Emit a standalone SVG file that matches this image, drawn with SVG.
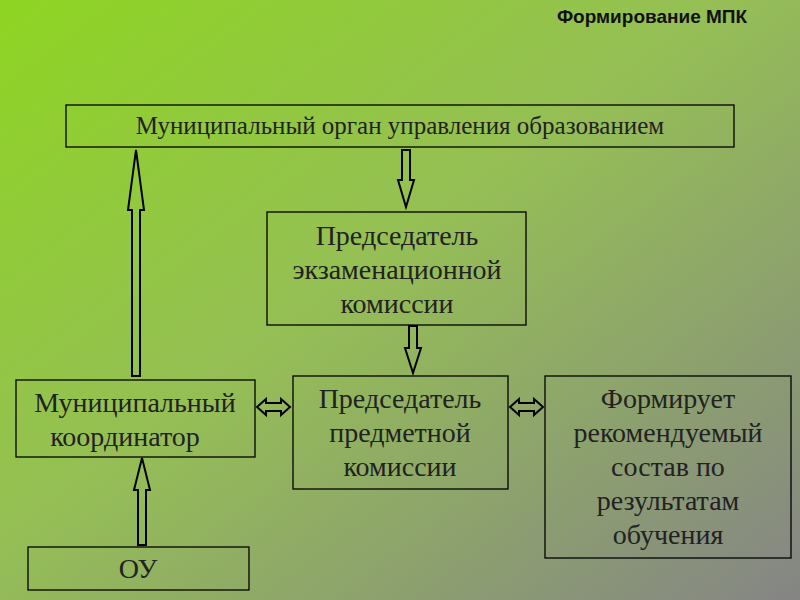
<svg xmlns="http://www.w3.org/2000/svg" width="800" height="600" viewBox="0 0 800 600">
<defs>
<linearGradient id="bg" x1="0" y1="0" x2="1" y2="1">
<stop offset="0" stop-color="#8ed522"/>
<stop offset="0.45" stop-color="#95bf55"/>
<stop offset="1" stop-color="#858585"/>
</linearGradient>
<style>
.box{fill:none;stroke:#000;stroke-width:1.3}
.t{font-family:"Liberation Serif","DejaVu Serif",serif;font-size:28px;fill:#222;text-anchor:middle}
.arr{fill:none;stroke:#000;stroke-width:2;stroke-linejoin:miter}
</style>
</defs>
<rect width="800" height="600" fill="url(#bg)"/>
<text x="652" y="23" font-family="Liberation Sans,Arial,sans-serif" font-size="19" font-weight="bold" text-anchor="middle" fill="#111">Формирование МПК</text>
<g id="organ"><rect class="box" x="66" y="105" width="668" height="42"/><text class="t" x="400" y="134" style="font-size:25px">Муниципальный орган управления образованием</text></g>
<g id="pek"><rect class="box" x="267" y="212" width="259" height="113"/><text class="t" x="397" y="245">Председатель</text><text class="t" x="397" y="279">экзаменационной</text><text class="t" x="397" y="313">комиссии</text></g>
<g id="coord"><rect class="box" x="16" y="380" width="239" height="77"/><text class="t" x="135" y="412">Муниципальный</text><text class="t" x="125" y="446">координатор</text></g>
<g id="ppk"><rect class="box" x="293" y="376" width="215" height="113"/><text class="t" x="400" y="408">Председатель</text><text class="t" x="400" y="442">предметной</text><text class="t" x="400" y="476">комиссии</text></g>
<g id="form"><rect class="box" x="545" y="376" width="246" height="182"/><text class="t" x="668" y="408">Формирует</text><text class="t" x="668" y="442">рекомендуемый</text><text class="t" x="668" y="476">состав по</text><text class="t" x="668" y="510">результатам</text><text class="t" x="668" y="544">обучения</text></g>
<g id="ou"><rect class="box" x="28" y="547" width="221" height="43"/><text class="t" x="138" y="578">ОУ</text></g>
<g id="connectors">
<polygon class="arr" points="136,150 144,210 140,210 140,376 132,376 132,210 128,210"/>
<polygon class="arr" points="402,150 410,150 410,180 414,180 406,207 398,180 402,180"/>
<polygon class="arr" points="409,326 417,326 417,348 421,348 413,373 405,348 409,348"/>
<polygon class="arr" points="142,458 150,490 146,490 146,545 138,545 138,490 134,490"/>
<polygon class="arr" points="257,407 266,399 266,403 281,403 281,399 290,407 281,415 281,411 266,411 266,415"/>
<polygon class="arr" points="510,407 519,399 519,403 534,403 534,399 543,407 534,415 534,411 519,411 519,415"/>
</g>
</svg>
